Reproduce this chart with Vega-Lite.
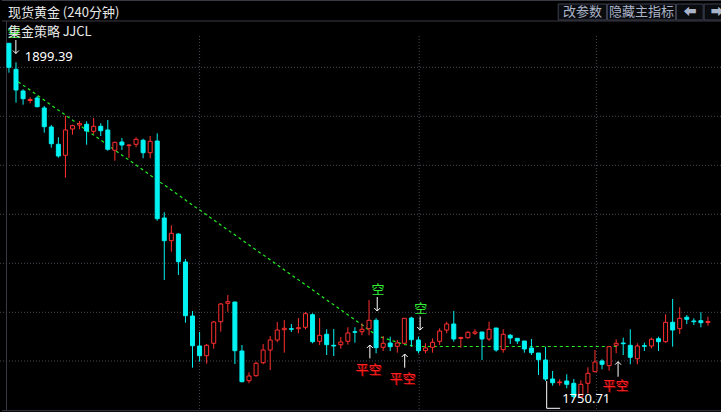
{
  "$schema": "https://vega.github.io/schema/vega-lite/v6.json",
  "width": 721,
  "height": 412,
  "padding": 0,
  "autosize": {"type": "fit", "contains": "padding"},
  "background": "#000000",
  "config": {"view": {"stroke": null}, "text": {"font": "Noto Sans CJK SC"}},
  "datasets": {
    "candles": [
      {"i":0,"d":"down","o":1899.39,"h":1899.39,"l":1887.07,"c":1889.33},
      {"i":1,"d":"down","o":1888.49,"h":1891.43,"l":1874.49,"c":1879.81},
      {"i":2,"d":"down","o":1879.40,"h":1880.11,"l":1873.65,"c":1876.17},
      {"i":3,"d":"up","o":1875.41,"h":1876.75,"l":1874.24,"c":1875.83},
      {"i":4,"d":"down","o":1876.46,"h":1877.30,"l":1872.56,"c":1872.81},
      {"i":5,"d":"down","o":1872.27,"h":1873.11,"l":1861.92,"c":1864.43},
      {"i":6,"d":"down","o":1864.31,"h":1865.14,"l":1855.63,"c":1857.30},
      {"i":7,"d":"down","o":1857.05,"h":1859.99,"l":1851.44,"c":1852.15},
      {"i":8,"d":"up","o":1852.44,"h":1869.04,"l":1843.05,"c":1863.05},
      {"i":9,"d":"up","o":1863.47,"h":1865.27,"l":1861.08,"c":1864.85},
      {"i":10,"d":"up","o":1865.14,"h":1866.82,"l":1863.34,"c":1865.69},
      {"i":11,"d":"down","o":1865.44,"h":1866.70,"l":1856.89,"c":1862.63},
      {"i":12,"d":"up","o":1862.50,"h":1868.08,"l":1861.37,"c":1864.60},
      {"i":13,"d":"down","o":1864.60,"h":1865.86,"l":1860.53,"c":1862.75},
      {"i":14,"d":"down","o":1863.05,"h":1867.24,"l":1854.37,"c":1854.96},
      {"i":15,"d":"up","o":1854.54,"h":1858.14,"l":1850.18,"c":1857.89},
      {"i":16,"d":"down","o":1858.02,"h":1859.69,"l":1854.66,"c":1856.76},
      {"i":17,"d":"up","o":1856.47,"h":1857.18,"l":1851.31,"c":1856.76},
      {"i":18,"d":"up","o":1857.05,"h":1859.99,"l":1855.80,"c":1859.15},
      {"i":19,"d":"down","o":1858.73,"h":1859.40,"l":1851.19,"c":1853.53},
      {"i":20,"d":"up","o":1853.53,"h":1860.53,"l":1851.19,"c":1858.31},
      {"i":21,"d":"down","o":1858.44,"h":1861.66,"l":1825.03,"c":1825.87},
      {"i":22,"d":"down","o":1826.16,"h":1828.55,"l":1800.17,"c":1816.65},
      {"i":23,"d":"up","o":1816.65,"h":1823.10,"l":1812.04,"c":1819.75},
      {"i":24,"d":"down","o":1819.45,"h":1819.75,"l":1802.27,"c":1807.84},
      {"i":25,"d":"down","o":1807.72,"h":1808.97,"l":1782.27,"c":1785.21},
      {"i":26,"d":"down","o":1785.08,"h":1787.18,"l":1763.41,"c":1772.63},
      {"i":27,"d":"down","o":1772.51,"h":1778.38,"l":1765.93,"c":1768.44},
      {"i":28,"d":"up","o":1768.44,"h":1773.35,"l":1765.09,"c":1772.80},
      {"i":29,"d":"up","o":1773.64,"h":1782.99,"l":1771.38,"c":1782.57},
      {"i":30,"d":"up","o":1782.69,"h":1790.53,"l":1778.50,"c":1790.11},
      {"i":31,"d":"up","o":1790.41,"h":1793.88,"l":1786.88,"c":1791.08},
      {"i":32,"d":"down","o":1790.95,"h":1790.95,"l":1764.96,"c":1770.54},
      {"i":33,"d":"down","o":1770.41,"h":1772.93,"l":1757.30,"c":1757.54},
      {"i":34,"d":"up","o":1757.96,"h":1761.48,"l":1756.87,"c":1759.93},
      {"i":35,"d":"up","o":1760.06,"h":1765.93,"l":1759.64,"c":1765.25},
      {"i":36,"d":"up","o":1765.51,"h":1773.35,"l":1764.84,"c":1770.83},
      {"i":37,"d":"up","o":1770.83,"h":1776.70,"l":1762.45,"c":1775.02},
      {"i":38,"d":"up","o":1775.02,"h":1782.57,"l":1774.06,"c":1779.21},
      {"i":39,"d":"up","o":1779.34,"h":1783.41,"l":1769.70,"c":1779.93},
      {"i":40,"d":"down","o":1779.76,"h":1781.73,"l":1778.38,"c":1779.51},
      {"i":41,"d":"up","o":1779.76,"h":1784.24,"l":1777.83,"c":1780.18},
      {"i":42,"d":"up","o":1780.35,"h":1786.76,"l":1779.51,"c":1786.05},
      {"i":43,"d":"down","o":1785.63,"h":1786.21,"l":1773.64,"c":1774.31},
      {"i":44,"d":"up","o":1774.48,"h":1784.24,"l":1772.93,"c":1776.99},
      {"i":45,"d":"down","o":1777.41,"h":1779.51,"l":1768.73,"c":1773.05},
      {"i":46,"d":"down","o":1772.80,"h":1779.64,"l":1768.32,"c":1772.51},
      {"i":47,"d":"up","o":1773.05,"h":1776.28,"l":1771.38,"c":1774.18},
      {"i":48,"d":"up","o":1774.48,"h":1780.35,"l":1773.05,"c":1777.96},
      {"i":49,"d":"down","o":1778.50,"h":1780.35,"l":1773.89,"c":1778.25},
      {"i":50,"d":"up","o":1778.50,"h":1782.02,"l":1776.99,"c":1779.51},
      {"i":51,"d":"up","o":1779.76,"h":1791.79,"l":1776.99,"c":1783.28},
      {"i":52,"d":"down","o":1783.28,"h":1784.12,"l":1769.45,"c":1771.79},
      {"i":53,"d":"up","o":1771.96,"h":1776.70,"l":1770.41,"c":1773.64},
      {"i":54,"d":"down","o":1773.76,"h":1776.41,"l":1770.41,"c":1772.21},
      {"i":55,"d":"up","o":1772.38,"h":1775.02,"l":1769.70,"c":1773.76},
      {"i":56,"d":"up","o":1773.64,"h":1784.12,"l":1773.35,"c":1784.12},
      {"i":57,"d":"down","o":1784.24,"h":1784.79,"l":1772.21,"c":1775.15},
      {"i":58,"d":"down","o":1775.02,"h":1776.41,"l":1769.45,"c":1770.54},
      {"i":59,"d":"up","o":1770.54,"h":1773.64,"l":1769.45,"c":1771.67},
      {"i":60,"d":"up","o":1771.96,"h":1775.73,"l":1769.70,"c":1774.06},
      {"i":61,"d":"up","o":1774.48,"h":1779.93,"l":1772.93,"c":1778.79},
      {"i":62,"d":"up","o":1779.21,"h":1782.69,"l":1777.83,"c":1781.73},
      {"i":63,"d":"down","o":1781.73,"h":1787.18,"l":1774.31,"c":1775.44},
      {"i":64,"d":"up","o":1775.65,"h":1776.41,"l":1771.79,"c":1776.07},
      {"i":65,"d":"up","o":1775.99,"h":1778.67,"l":1775.57,"c":1778.25},
      {"i":66,"d":"up","o":1777.83,"h":1779.51,"l":1777.12,"c":1778.38},
      {"i":67,"d":"down","o":1778.38,"h":1778.38,"l":1766.64,"c":1775.44},
      {"i":68,"d":"up","o":1775.44,"h":1782.69,"l":1774.60,"c":1779.51},
      {"i":69,"d":"down","o":1780.05,"h":1780.05,"l":1770.12,"c":1770.83},
      {"i":70,"d":"up","o":1770.96,"h":1779.51,"l":1769.70,"c":1777.41},
      {"i":71,"d":"down","o":1776.99,"h":1777.54,"l":1773.35,"c":1775.86},
      {"i":72,"d":"down","o":1775.73,"h":1775.73,"l":1773.35,"c":1774.60},
      {"i":73,"d":"down","o":1774.60,"h":1774.60,"l":1769.70,"c":1771.25},
      {"i":74,"d":"down","o":1771.67,"h":1775.44,"l":1768.73,"c":1769.70},
      {"i":75,"d":"down","o":1769.57,"h":1769.57,"l":1760.35,"c":1766.76},
      {"i":76,"d":"down","o":1766.64,"h":1772.21,"l":1757.84,"c":1758.67},
      {"i":77,"d":"down","o":1758.67,"h":1762.03,"l":1755.87,"c":1757.12},
      {"i":78,"d":"up","o":1757.12,"h":1758.55,"l":1755.87,"c":1757.42},
      {"i":79,"d":"down","o":1757.84,"h":1760.65,"l":1754.78,"c":1756.45},
      {"i":80,"d":"down","o":1756.87,"h":1758.67,"l":1750.71,"c":1751.26},
      {"i":81,"d":"up","o":1751.26,"h":1758.13,"l":1751.00,"c":1756.45},
      {"i":82,"d":"up","o":1756.87,"h":1763.58,"l":1752.68,"c":1761.06},
      {"i":83,"d":"up","o":1761.73,"h":1770.83,"l":1761.50,"c":1765.80},
      {"i":84,"d":"down","o":1766.22,"h":1766.93,"l":1762.74,"c":1764.84},
      {"i":85,"d":"up","o":1764.25,"h":1772.51,"l":1762.15,"c":1772.21},
      {"i":86,"d":"up","o":1772.80,"h":1775.32,"l":1769.45,"c":1773.64},
      {"i":87,"d":"down","o":1773.76,"h":1775.99,"l":1768.73,"c":1773.47},
      {"i":88,"d":"down","o":1772.80,"h":1779.51,"l":1764.84,"c":1767.77},
      {"i":89,"d":"up","o":1767.18,"h":1773.64,"l":1764.84,"c":1772.51},
      {"i":90,"d":"down","o":1772.63,"h":1773.89,"l":1770.41,"c":1772.38},
      {"i":91,"d":"up","o":1772.51,"h":1775.99,"l":1771.54,"c":1775.32},
      {"i":92,"d":"down","o":1775.57,"h":1776.41,"l":1770.41,"c":1774.31},
      {"i":93,"d":"up","o":1774.31,"h":1785.80,"l":1773.89,"c":1782.44},
      {"i":94,"d":"down","o":1782.44,"h":1792.21,"l":1772.21,"c":1779.21},
      {"i":95,"d":"up","o":1779.76,"h":1788.73,"l":1777.54,"c":1784.12},
      {"i":96,"d":"down","o":1784.54,"h":1785.50,"l":1781.73,"c":1783.70},
      {"i":97,"d":"down","o":1782.99,"h":1784.12,"l":1781.31,"c":1782.69},
      {"i":98,"d":"down","o":1783.11,"h":1786.63,"l":1780.35,"c":1782.27},
      {"i":99,"d":"up","o":1782.36,"h":1784.79,"l":1781.02,"c":1782.78}
    ],
    "hgrid": [{"p":1889.33},{"p":1868.79},{"p":1848.25},{"p":1827.71},{"p":1807.17},{"p":1786.63},{"p":1766.22}],
    "vgrid": [{"i":27.0,"top":1902.45,"bot":1745.39},{"i":58.1,"top":1902.45,"bot":1745.39},{"i":83.2,"top":1902.45,"bot":1745.39}],
    "frame": [
      {"i":-1,"i2":102,"p":1908.74,"p2":1908.74},
      {"i":-1,"i2":102,"p":1917.33,"p2":1917.33},
      {"i":-1,"i2":102,"p":1745.39,"p2":1745.39},
      {"i":-0.35,"i2":-0.35,"p":1908.74,"p2":1745.39}
    ],
    "trend": [{"i":1.3,"p":1883.3},{"i":50.1,"p":1781.18},{"i":52.2,"p":1776.7},{"i":56.0,"p":1773.14},{"i":57.8,"p":1772.3},{"i":86.3,"p":1772.3}],
    "arrows": [
      {"i":52.16,"tip":1787.18,"tail":1793.05,"dir":"down"},
      {"i":58.24,"tip":1779.21,"tail":1784.87,"dir":"down"},
      {"i":0.98,"tip":1895.11,"tail":1900.77,"dir":"down"},
      {"i":51.12,"tip":1772.93,"tail":1767.35,"dir":"up"},
      {"i":56.05,"tip":1769.15,"tail":1763.41,"dir":"up"},
      {"i":86.27,"tip":1765.93,"tail":1759.64,"dir":"up"}
    ],
    "opens": [
      {"i":52.28,"p":1795.77,"t":"空"},
      {"i":58.34,"p":1788.02,"t":"空"},
      {"i":0.7,"p":1903.71,"t":"空"}
    ],
    "closes": [
      {"i":50.91,"p":1762.45,"t":"平空"},
      {"i":55.73,"p":1758.67,"t":"平空"},
      {"i":85.89,"p":1755.53,"t":"平空"}
    ],
    "labels": [
      {"i":2.23,"p":1893.44,"t":"1899.39"},
      {"i":78.35,"p":1750.29,"t":"1750.71"}
    ],
    "bracket": [
      {"i":76.16,"i2":76.16,"p":1757.84,"p2":1746.39},
      {"i":76.16,"i2":78.07,"p":1746.39,"p2":1746.39}
    ],
    "buttons": [
      {"i":77.79,"i2":84.64,"p":1915.86,"p2":1909.16,"cx":81.22,"t":"改参数","f":"Noto Sans CJK SC"},
      {"i":84.78,"i2":94.41,"p":1915.86,"p2":1909.16,"cx":89.6,"t":"隐藏主指标","f":"Noto Sans CJK SC"},
      {"i":94.55,"i2":98.32,"p":1915.86,"p2":1909.16,"cx":96.44,"t":"⬅","f":"DejaVu Sans"},
      {"i":98.46,"i2":102,"p":1915.86,"p2":1909.16,"cx":100.3,"t":"➡","f":"DejaVu Sans"}
    ],
    "titles": [
      {"i":-0.14,"p":1912.3,"t":"现货黄金 (240分钟)"},
      {"i":-0.14,"p":1904.13,"t":"集金策略 JJCL"}
    ]
  },
  "encoding": {
    "x": {"type":"quantitative","scale":{"domain":[-0.559,100.14],"nice":false,"zero":false},"axis":null},
    "y": {"type":"quantitative","scale":{"domain":[1744.84,1917.54],"nice":false,"zero":false},"axis":null}
  },
  "layer": [
    {
      "data": {"name":"frame"},
      "mark": {"type":"rule","color":"#3a3a44","strokeWidth":1,"clip":true},
      "encoding": {"x":{"field":"i","type":"quantitative"},"x2":{"field":"i2"},"y":{"field":"p","type":"quantitative"},"y2":{"field":"p2"}}
    },
    {
      "data": {"name":"hgrid"},
      "mark": {"type":"rule","color":"#4a4a58","strokeWidth":1,"strokeDash":[1,2],"clip":true},
      "encoding": {"y":{"field":"p","type":"quantitative"}}
    },
    {
      "data": {"name":"vgrid"},
      "mark": {"type":"rule","color":"#4a4a58","strokeWidth":1,"strokeDash":[1,2],"clip":true},
      "encoding": {"x":{"field":"i","type":"quantitative"},"y":{"field":"top","type":"quantitative"},"y2":{"field":"bot"}}
    },
    {
      "data": {"name":"trend"},
      "mark": {"type":"line","color":"#22ee22","strokeWidth":1.2,"strokeDash":[3,3],"clip":true},
      "encoding": {"x":{"field":"i","type":"quantitative"},"y":{"field":"p","type":"quantitative"}}
    },
    {
      "data": {"name":"candles"},
      "mark": {"type":"rule","strokeWidth":1,"clip":true},
      "encoding": {
        "x":{"field":"i","type":"quantitative"},
        "y":{"field":"l","type":"quantitative"},
        "y2":{"field":"h"},
        "color":{"field":"d","type":"nominal","scale":{"domain":["up","down"],"range":["#ff2f2f","#00f2f2"]},"legend":null}
      }
    },
    {
      "data": {"name":"candles"},
      "mark": {"type":"bar","width":4,"strokeWidth":1,"clip":true},
      "encoding": {
        "x":{"field":"i","type":"quantitative"},
        "y":{"field":"o","type":"quantitative"},
        "y2":{"field":"c"},
        "fill":{"field":"d","type":"nominal","scale":{"domain":["up","down"],"range":["#000000","#00f2f2"]},"legend":null},
        "stroke":{"field":"d","type":"nominal","scale":{"domain":["up","down"],"range":["#ff2f2f","#00f2f2"]},"legend":null}
      }
    },
    {
      "data": {"name":"arrows"},
      "mark": {"type":"rule","color":"#ffffff","strokeWidth":1,"clip":true},
      "encoding": {"x":{"field":"i","type":"quantitative"},"y":{"field":"tip","type":"quantitative"},"y2":{"field":"tail"}}
    },
    {
      "data": {"name":"arrows"},
      "mark": {"type":"point","filled":false,"size":36,"strokeWidth":1,"opacity":1,"clip":true},
      "encoding": {
        "x":{"field":"i","type":"quantitative"},
        "y":{"field":"tip","type":"quantitative"},
        "shape":{"field":"dir","type":"nominal","scale":{"domain":["up","down"],"range":["M -1 1 L 0 0 L 1 1","M -1 -1 L 0 0 L 1 -1"]},"legend":null},
        "stroke":{"value":"#ffffff"}
      }
    },
    {
      "data": {"name":"opens"},
      "mark": {"type":"text","color":"#33ee33","fontSize":13,"align":"center","baseline":"middle","clip":true},
      "encoding": {"x":{"field":"i","type":"quantitative"},"y":{"field":"p","type":"quantitative"},"text":{"field":"t"}}
    },
    {
      "data": {"name":"closes"},
      "mark": {"type":"text","color":"#7a0000","fontSize":13,"align":"center","baseline":"middle","dx":1,"dy":1,"clip":true},
      "encoding": {"x":{"field":"i","type":"quantitative"},"y":{"field":"p","type":"quantitative"},"text":{"field":"t"}}
    },
    {
      "data": {"name":"closes"},
      "mark": {"type":"text","color":"#ff2222","fontSize":13,"align":"center","baseline":"middle","clip":true},
      "encoding": {"x":{"field":"i","type":"quantitative"},"y":{"field":"p","type":"quantitative"},"text":{"field":"t"}}
    },
    {
      "data": {"name":"bracket"},
      "mark": {"type":"rule","color":"#ffffff","strokeWidth":1,"clip":true},
      "encoding": {"x":{"field":"i","type":"quantitative"},"x2":{"field":"i2"},"y":{"field":"p","type":"quantitative"},"y2":{"field":"p2"}}
    },
    {
      "data": {"name":"labels"},
      "mark": {"type":"text","color":"#ffffff","fontSize":13,"font":"Noto Sans","align":"left","baseline":"middle","clip":true},
      "encoding": {"x":{"field":"i","type":"quantitative"},"y":{"field":"p","type":"quantitative"},"text":{"field":"t"}}
    },
    {
      "data": {"name":"buttons"},
      "mark": {"type":"rect","fill":"#0b0c10","stroke":"#3c4150","strokeWidth":1,"clip":true},
      "encoding": {"x":{"field":"i","type":"quantitative"},"x2":{"field":"i2"},"y":{"field":"p","type":"quantitative"},"y2":{"field":"p2"}}
    },
    {
      "data": {"name":"buttons"},
      "mark": {"type":"text","color":"#aab4c8","fontSize":13,"align":"center","baseline":"middle","dy":0,"clip":true},
      "encoding": {"x":{"field":"cx","type":"quantitative"},"y":{"datum":1912.51,"type":"quantitative"},"text":{"field":"t"},"font":{"field":"f"}}
    },
    {
      "data": {"name":"titles"},
      "mark": {"type":"text","color":"#e8e8e8","fontSize":13,"align":"left","baseline":"middle","clip":true},
      "encoding": {"x":{"field":"i","type":"quantitative"},"y":{"field":"p","type":"quantitative"},"text":{"field":"t"}}
    }
  ]
}
